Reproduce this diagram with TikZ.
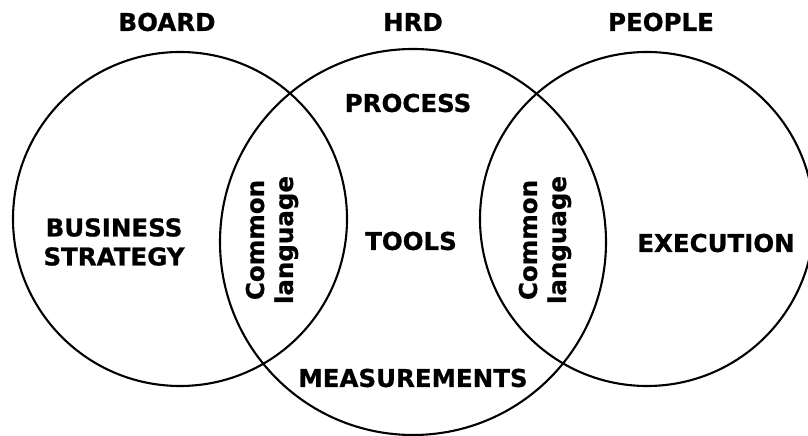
\documentclass[tikz,border=0pt]{standalone}
\usepackage{fontspec}
\newfontfamily\vennfont{DejaVu Sans}[BoldFeatures={FakeBold=0.8}]
\usepackage{tikz}

\tikzset{
  ring/.style={draw, circle, line width=2.1pt, inner sep=0pt},
  tag/.style={font=\vennfont\bfseries\fontsize{24.5}{29}\selectfont, align=center, inner sep=0pt},
  side/.style={tag, rotate=90}
}

\begin{document}
\begin{tikzpicture}[x=1pt, y=1pt]

  \useasboundingbox (0, 0) rectangle (808, 436);

  % the three circles
  \node[ring, minimum size=334pt] (board)  at (180, 217) {};
  \node[ring, minimum size=386pt] (hrd)    at (413, 194) {};
  \node[ring, minimum size=334pt] (people) at (647, 217) {};

  % headings
  \node[tag] (boardtitle)  at (167, 414) {BOARD};
  \node[tag] (hrdtitle)    at (413, 414) {HRD};
  \node[tag] (peopletitle) at (661, 414) {PEOPLE};

  % inside the circles
  \node[tag] (strategy)  at (114, 194) {BUSINESS\\STRATEGY};
  \node[tag] (process)   at (408, 333) {PROCESS};
  \node[tag] (tools)     at (411, 195) {TOOLS};
  \node[tag] (measures)  at (413, 58)  {MEASUREMENTS};
  \node[tag] (execution) at (716, 193) {EXECUTION};

  % overlaps
  \node[side] (langleft)  at (272, 196) {Common\\language};
  \node[side] (langright) at (545, 196) {Common\\language};

\end{tikzpicture}
\end{document}
